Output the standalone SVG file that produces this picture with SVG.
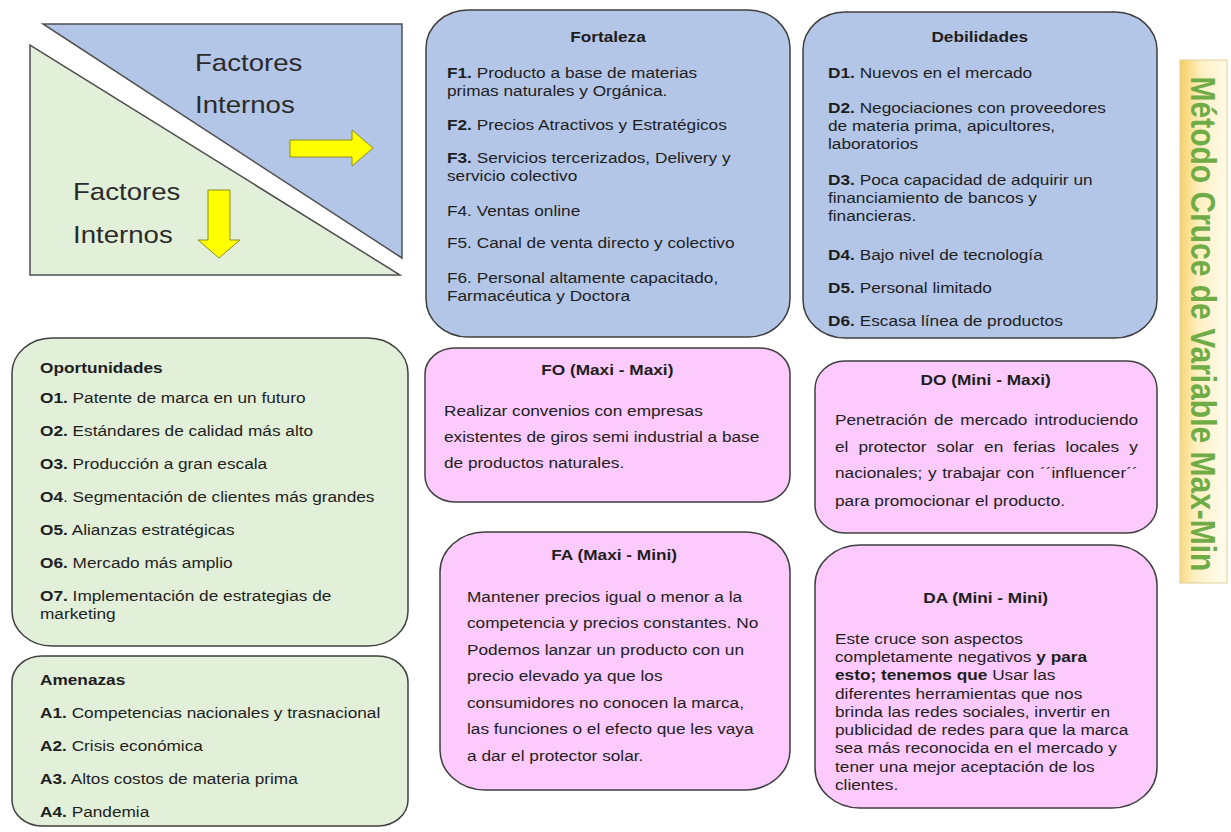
<svg xmlns="http://www.w3.org/2000/svg" width="1231" height="832" viewBox="0 0 1231 832">
<defs>
<style>
.t{font-family:"Liberation Sans",Arial,sans-serif;font-size:15px;fill:#1e1e1e}
.b{font-weight:bold}
.box{stroke:#3f3f3f;stroke-width:1.5}
.blue{fill:#b4c6e7}
.green{fill:#e2efd9}
.pink{fill:#fccafc}
.tri{stroke:#505050;stroke-width:1.5}
.big{font-family:"Liberation Sans",Arial,sans-serif;font-size:24px;fill:#2b2b2b}
.yarrow{fill:#ffff00;stroke:#8c8c20;stroke-width:1}
</style>
<linearGradient id="gold" x1="0" y1="0" x2="1" y2="0.15">
<stop offset="0" stop-color="#f5cf63"/>
<stop offset="0.45" stop-color="#fff0c2"/>
<stop offset="1" stop-color="#fffbea"/>
</linearGradient>
</defs>
<rect width="1231" height="832" fill="#ffffff"/>

<g id="header">
<polygon class="tri blue" points="43,24 402,24 402,258"/>
<polygon class="tri green" points="30,45 30,275 400,275"/>
<g transform="translate(195 0) scale(1.15 1)">
<text class="big" x="0" y="71">Factores</text>
<text class="big" x="0" y="113">Internos</text>
</g>
<g transform="translate(73 0) scale(1.15 1)">
<text class="big" x="0" y="200">Factores</text>
<text class="big" x="0" y="243">Internos</text>
</g>
</g>

<g id="connectors">
<polygon class="yarrow" points="290,140 352,140 352,130 373,148 352,166 352,157 290,157"/>
<polygon class="yarrow" points="208,190 230,190 230,240 240,240 219,258 198,240 208,240"/>
</g>

<g id="fortaleza">
<rect class="box blue" x="426" y="10" width="364" height="327" rx="42" ry="38"/>
<g transform="translate(447 0) scale(1.15 1)">
<text class="t b" x="140" y="42" text-anchor="middle">Fortaleza</text>
<text class="t" x="0" y="78"><tspan class="b">F1.</tspan> Producto a base de materias</text>
<text class="t" x="0" y="96">primas naturales y Orgánica.</text>
<text class="t" x="0" y="130"><tspan class="b">F2.</tspan> Precios Atractivos y Estratégicos</text>
<text class="t" x="0" y="163"><tspan class="b">F3.</tspan> Servicios tercerizados, Delivery y</text>
<text class="t" x="0" y="181">servicio colectivo</text>
<text class="t" x="0" y="216">F4. Ventas online</text>
<text class="t" x="0" y="248">F5. Canal de venta directo y colectivo</text>
<text class="t" x="0" y="283">F6. Personal altamente capacitado,</text>
<text class="t" x="0" y="301">Farmacéutica y Doctora</text>
</g>
</g>

<g id="debilidades">
<rect class="box blue" x="803" y="12" width="354" height="326" rx="42" ry="38"/>
<g transform="translate(828 0) scale(1.15 1)">
<text class="t b" x="132" y="42" text-anchor="middle">Debilidades</text>
<text class="t" x="0" y="78"><tspan class="b">D1.</tspan> Nuevos en el mercado</text>
<text class="t" x="0" y="113"><tspan class="b">D2.</tspan> Negociaciones con proveedores</text>
<text class="t" x="0" y="131">de materia prima, apicultores,</text>
<text class="t" x="0" y="149">laboratorios</text>
<text class="t" x="0" y="185"><tspan class="b">D3.</tspan> Poca capacidad de adquirir un</text>
<text class="t" x="0" y="203">financiamiento de bancos y</text>
<text class="t" x="0" y="221">financieras.</text>
<text class="t" x="0" y="260"><tspan class="b">D4.</tspan> Bajo nivel de tecnología</text>
<text class="t" x="0" y="293"><tspan class="b">D5.</tspan> Personal limitado</text>
<text class="t" x="0" y="326"><tspan class="b">D6.</tspan> Escasa línea de productos</text>
</g>
</g>

<g id="titulo">
<rect x="1180" y="60" width="47" height="523" fill="url(#gold)" stroke="#e0cf9a" stroke-width="1"/>
<text transform="translate(1191 324) scale(1.15 1) rotate(90)" x="0" y="0" text-anchor="middle" font-family="Liberation Sans, Arial, sans-serif" font-size="30" font-weight="bold" fill="#6fac46">Método Cruce de Variable Max-Min</text>
</g>

<g id="oportunidades">
<rect class="box green" x="12" y="338" width="396" height="308" rx="40" ry="35"/>
<g transform="translate(40 0) scale(1.15 1)">
<text class="t b" x="0" y="373">Oportunidades</text>
<text class="t" x="0" y="403"><tspan class="b">O1.</tspan> Patente de marca en un futuro</text>
<text class="t" x="0" y="436"><tspan class="b">O2.</tspan> Estándares de calidad más alto</text>
<text class="t" x="0" y="469"><tspan class="b">O3.</tspan> Producción a gran escala</text>
<text class="t" x="0" y="502"><tspan class="b">O4</tspan>. Segmentación de clientes más grandes</text>
<text class="t" x="0" y="535"><tspan class="b">O5.</tspan> Alianzas estratégicas</text>
<text class="t" x="0" y="568"><tspan class="b">O6.</tspan> Mercado más amplio</text>
<text class="t" x="0" y="601"><tspan class="b">O7.</tspan> Implementación de estrategias de</text>
<text class="t" x="0" y="619">marketing</text>
</g>
</g>

<g id="amenazas">
<rect class="box green" x="12" y="656" width="396" height="170" rx="30" ry="26"/>
<g transform="translate(40 0) scale(1.15 1)">
<text class="t b" x="0" y="685">Amenazas</text>
<text class="t" x="0" y="718"><tspan class="b">A1.</tspan> Competencias nacionales y trasnacional</text>
<text class="t" x="0" y="751"><tspan class="b">A2.</tspan> Crisis económica</text>
<text class="t" x="0" y="784"><tspan class="b">A3.</tspan> Altos costos de materia prima</text>
<text class="t" x="0" y="817"><tspan class="b">A4.</tspan> Pandemia</text>
</g>
</g>

<g id="fo">
<rect class="box pink" x="425" y="348" width="365" height="154" rx="30" ry="26"/>
<g transform="translate(444 0) scale(1.15 1)">
<text class="t b" x="142" y="375" text-anchor="middle" font-size="13.5">FO (Maxi - Maxi)</text>
<text class="t" x="0" y="416">Realizar convenios con empresas</text>
<text class="t" x="0" y="442">existentes de giros semi industrial a base</text>
<text class="t" x="0" y="468">de productos naturales.</text>
</g>
</g>

<g id="fa">
<rect class="box pink" x="440" y="532" width="350" height="258" rx="45" ry="40"/>
<g transform="translate(467 0) scale(1.15 1)">
<text class="t b" x="128" y="560" text-anchor="middle" font-size="13.5">FA (Maxi - Mini)</text>
<text class="t" x="0" y="602">Mantener precios igual o menor a la</text>
<text class="t" x="0" y="628.5">competencia y precios constantes. No</text>
<text class="t" x="0" y="655">Podemos lanzar un producto con un</text>
<text class="t" x="0" y="681.5">precio elevado ya que los</text>
<text class="t" x="0" y="708">consumidores no conocen la marca,</text>
<text class="t" x="0" y="734.5">las funciones o el efecto que les vaya</text>
<text class="t" x="0" y="761">a dar el protector solar.</text>
</g>
</g>

<g id="do">
<rect class="box pink" x="815" y="361" width="342" height="172" rx="30" ry="28"/>
<g transform="translate(835 0) scale(1.15 1)">
<text class="t b" x="131" y="385" text-anchor="middle" font-size="13.5">DO (Mini - Maxi)</text>
<text class="t" x="0" y="425" word-spacing="2">Penetración de mercado introduciendo</text>
<text class="t" x="0" y="452" word-spacing="4.6">el protector solar en ferias locales y</text>
<text class="t" x="0" y="478" word-spacing="0.8">nacionales; y trabajar con ´´influencer´´</text>
<text class="t" x="0" y="506">para promocionar el producto.</text>
</g>
</g>

<g id="da">
<rect class="box pink" x="815" y="545" width="342" height="263" rx="45" ry="40"/>
<g transform="translate(835 0) scale(1.15 1)">
<text class="t b" x="131" y="603" text-anchor="middle" font-size="13.5">DA (Mini - Mini)</text>
<text class="t" x="0" y="644" font-size="14">Este cruce son aspectos</text>
<text class="t" x="0" y="662.25" font-size="14">completamente negativos <tspan class="b">y para</tspan></text>
<text class="t" x="0" y="680.5" font-size="14"><tspan class="b">esto; tenemos que</tspan> Usar las</text>
<text class="t" x="0" y="698.75" font-size="14">diferentes herramientas que nos</text>
<text class="t" x="0" y="717" font-size="14">brinda las redes sociales, invertir en</text>
<text class="t" x="0" y="735.25" font-size="14">publicidad de redes para que la marca</text>
<text class="t" x="0" y="753.5" font-size="14">sea más reconocida en el mercado y</text>
<text class="t" x="0" y="771.75" font-size="14">tener una mejor aceptación de los</text>
<text class="t" x="0" y="790" font-size="14">clientes.</text>
</g>
</g>
</svg>
